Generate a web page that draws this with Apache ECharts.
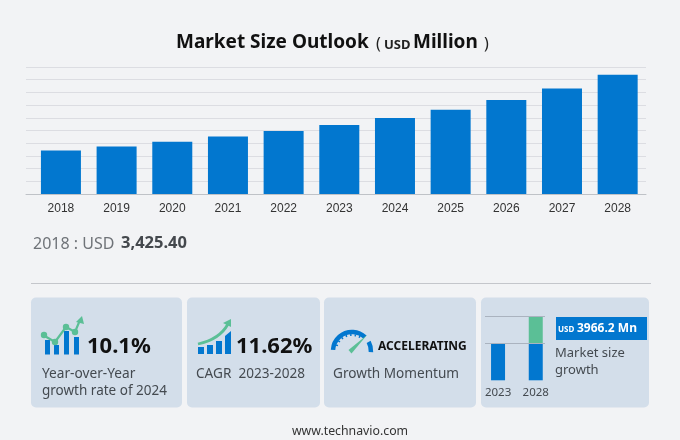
<!DOCTYPE html>
<html>
<head>
<meta charset="utf-8">
<style>
  html, body { margin: 0; padding: 0; background: #f2f3f5; }
  #chart { width: 680px; height: 440px; }
</style>
<script src="https://cdn.jsdelivr.net/npm/echarts@6/dist/echarts.min.js"></script>
</head>
<body>
<div id="chart"></div>
<script>
// values
const years = ['2018', '2019', '2020', '2021', '2022', '2023', '2024', '2025', '2026', '2027', '2028'];
const marketSize = [3425.4, 3750, 4120, 4535, 4960, 5430, 5980, 6635, 7400, 8315, 9396];
const miniYears = ['2023', '2028'];
const miniBase = [5430, 5430];
const miniGrowth = [0, 3966.2];

const BLUE = '#0277cf';
const GREEN = '#5bbf96';
const CARD = '#d3deea';
const TEXT = '#444a50';
const FONT = '"Noto Sans", "Open Sans", sans-serif';

function label(text, x, y, size, opts) {
  opts = opts || {};
  return {
    type: 'text',
    z: 3,
    style: {
      text: text,
      x: x,
      y: y,
      fill: opts.fill || TEXT,
      font: (opts.bold ? 'bold ' : '') + size + 'px ' + (opts.family || FONT),
      textAlign: opts.align || 'left',
      textVerticalAlign: 'middle'
    }
  };
}

function card(x, w) {
  return {
    type: 'rect',
    z: 0,
    shape: { x: x, y: 297.5, width: w, height: 110, r: 5 },
    style: { fill: CARD }
  };
}

function box(x, y, w, h, fill) {
  return { type: 'rect', z: 1, shape: { x: x, y: y, width: w, height: h }, style: { fill: fill } };
}

function dot(x, y) {
  return { type: 'circle', z: 2, shape: { cx: x, cy: y, r: 3.2 }, style: { fill: GREEN } };
}

function tri(points) {
  return { type: 'polygon', z: 2, shape: { points: points }, style: { fill: GREEN } };
}

const yoyIcon = [
  box(45, 340, 5, 14.5, BLUE), box(54, 345, 5, 9.5, BLUE),
  box(64, 331, 5, 23.5, BLUE), box(74, 337, 5, 17.5, BLUE),
  {
    type: 'polyline', z: 2,
    shape: { points: [[43, 335], [55, 342], [66, 327], [75, 332], [80, 320]] },
    style: { stroke: GREEN, lineWidth: 2.2, fill: null }
  },
  dot(44, 335), dot(55, 342), dot(66, 327), dot(75, 332),
  tri([[82, 316], [76, 322], [84, 324]])
];

const cagrIcon = [
  box(198, 347, 6, 7, BLUE), box(207, 345, 6, 9, BLUE),
  box(216, 341, 6, 13, BLUE),
  { type: 'polygon', z: 1, shape: { points: [[225, 336], [231, 331], [231, 354], [225, 354]] }, style: { fill: BLUE } },
  {
    type: 'bezierCurve', z: 2,
    shape: { x1: 198, y1: 344, cpx1: 212, cpy1: 341, cpx2: 222, cpy2: 335, x2: 228, y2: 324 },
    style: { stroke: GREEN, lineWidth: 2.8, fill: null }
  },
  tri([[231, 319], [223, 323], [231, 327]])
];

const gaugeIcon = [
  {
    type: 'arc', z: 1,
    shape: { cx: 352, cy: 351, r: 19, startAngle: Math.PI * 1.02, endAngle: Math.PI * 1.74, clockwise: true },
    style: { stroke: BLUE, lineWidth: 4.5, fill: null }
  },
  {
    type: 'arc', z: 1,
    shape: { cx: 352, cy: 351, r: 19, startAngle: Math.PI * 1.84, endAngle: Math.PI * 2.02, clockwise: true },
    style: { stroke: BLUE, lineWidth: 4.5, fill: null }
  },
  {
    // tick marks under the arc
    type: 'arc', z: 1,
    shape: { cx: 352, cy: 351, r: 16, startAngle: Math.PI * 1.1, endAngle: Math.PI * 1.72, clockwise: true },
    style: { stroke: BLUE, lineWidth: 2, lineDash: [1.5, 3], fill: null }
  },
  tri([[348.5, 350], [351.5, 353.5], [367, 335]])
];

const texts = [
  label('Market Size Outlook', 176, 43, 19, { bold: true, fill: '#111' }),
  label('(', 376, 44, 16, { fill: '#222' }),
  label('USD', 384, 45, 13, { bold: true, fill: '#222' }),
  label('Million', 413, 43, 19, { bold: true, fill: '#111' }),
  label(')', 484, 44, 16, { fill: '#222' }),

  label('2018 : USD', 33, 244, 16, { fill: '#6f7378' }),
  label('3,425.40', 121, 243.5, 16.5, { bold: true, fill: '#44484d' }),

  label('10.1%', 87, 347, 22, { bold: true, fill: '#111' }),
  label('Year-over-Year', 42, 374.5, 13.7),
  label('growth rate of 2024', 42, 391, 13.5),

  label('11.62%', 236, 347, 22, { bold: true, fill: '#111' }),
  label('CAGR  2023-2028', 196, 374.5, 13.6),

  label('ACCELERATING', 378, 347, 12, { bold: true, fill: '#111' }),
  label('Growth Momentum', 333, 374.5, 13.6),

  label('USD', 558, 330, 8, { bold: true, fill: '#fff' }),
  label('3966.2 Mn', 577, 329, 12, { bold: true, fill: '#fff' }),
  label('Market size', 555, 353, 13),
  label('growth', 555, 370, 13),

  label('www.technavio.com', 350, 431, 12.3, { align: 'center', fill: '#333' })
];

const chart = echarts.init(document.getElementById('chart'));

chart.setOption({
  animation: false,
  backgroundColor: '#f2f3f5',
  grid: [
    // wider grid only carries the rules and baseline
    { left: 26, top: 67, width: 620, height: 127 },
    { left: 33.1, top: 67, width: 612.4, height: 127 },
    { left: 479.2, top: 316.7, width: 75.4, height: 63.6 }
  ],
  xAxis: [
    {
      type: 'category', gridIndex: 0, data: [],
      axisLine: { lineStyle: { color: '#bfc2c7' } },
      axisTick: { show: false }, axisLabel: { show: false }
    },
    {
      type: 'category', gridIndex: 1, data: years,
      axisLine: { show: false }, axisTick: { show: false },
      axisLabel: { margin: 9, fontSize: 12, color: '#333', fontFamily: '"Liberation Sans", Arial, sans-serif' }
    },
    {
      type: 'category', gridIndex: 2, data: miniYears,
      axisLine: { show: false }, axisTick: { show: false },
      axisLabel: { margin: 6.5, fontSize: 11.5, color: TEXT, fontFamily: FONT }
    }
  ],
  yAxis: [
    {
      type: 'value', gridIndex: 0, min: 0, max: 10000, interval: 1000,
      axisLine: { show: false }, axisTick: { show: false }, axisLabel: { show: false },
      splitLine: { lineStyle: { color: '#dcdde2', width: 1 } }
    },
    {
      type: 'value', gridIndex: 1, min: 0, max: 10000, interval: 1000,
      axisLine: { show: false }, axisTick: { show: false }, axisLabel: { show: false },
      splitLine: { show: false }
    },
    {
      type: 'value', gridIndex: 2, min: 0, max: 9396.2,
      axisLine: { show: false }, axisTick: { show: false }, axisLabel: { show: false },
      splitLine: { show: false }
    }
  ],
  series: [
    {
      type: 'bar', xAxisIndex: 1, yAxisIndex: 1, data: marketSize,
      barWidth: 40, itemStyle: { color: BLUE }
    },
    {
      type: 'bar', xAxisIndex: 2, yAxisIndex: 2, data: miniBase, stack: 'mini',
      barWidth: 14, itemStyle: { color: BLUE },
      markLine: {
        silent: true, symbol: 'none', label: { show: false }, animation: false,
        lineStyle: { color: '#aab3bf', type: 'solid', width: 1 },
        data: [
          [{ x: 485, yAxis: miniBase[1] }, { x: 545, yAxis: miniBase[1] }],
          [{ x: 485, yAxis: miniBase[1] + miniGrowth[1] }, { x: 545, yAxis: miniBase[1] + miniGrowth[1] }]
        ]
      }
    },
    {
      type: 'bar', xAxisIndex: 2, yAxisIndex: 2, data: miniGrowth, stack: 'mini',
      barWidth: 14, itemStyle: { color: GREEN }
    }
  ],
  graphic: [
    {
      type: 'line', z: 0,
      shape: { x1: 31, y1: 283.5, x2: 651, y2: 283.5 },
      style: { stroke: '#c4c6cb', lineWidth: 1 }
    },
    card(31, 151), card(187, 133), card(324, 152), card(481, 168),
    box(556, 317, 91, 23, BLUE)
  ].concat(yoyIcon, cagrIcon, gaugeIcon, texts)
});
</script>
</body>
</html>
